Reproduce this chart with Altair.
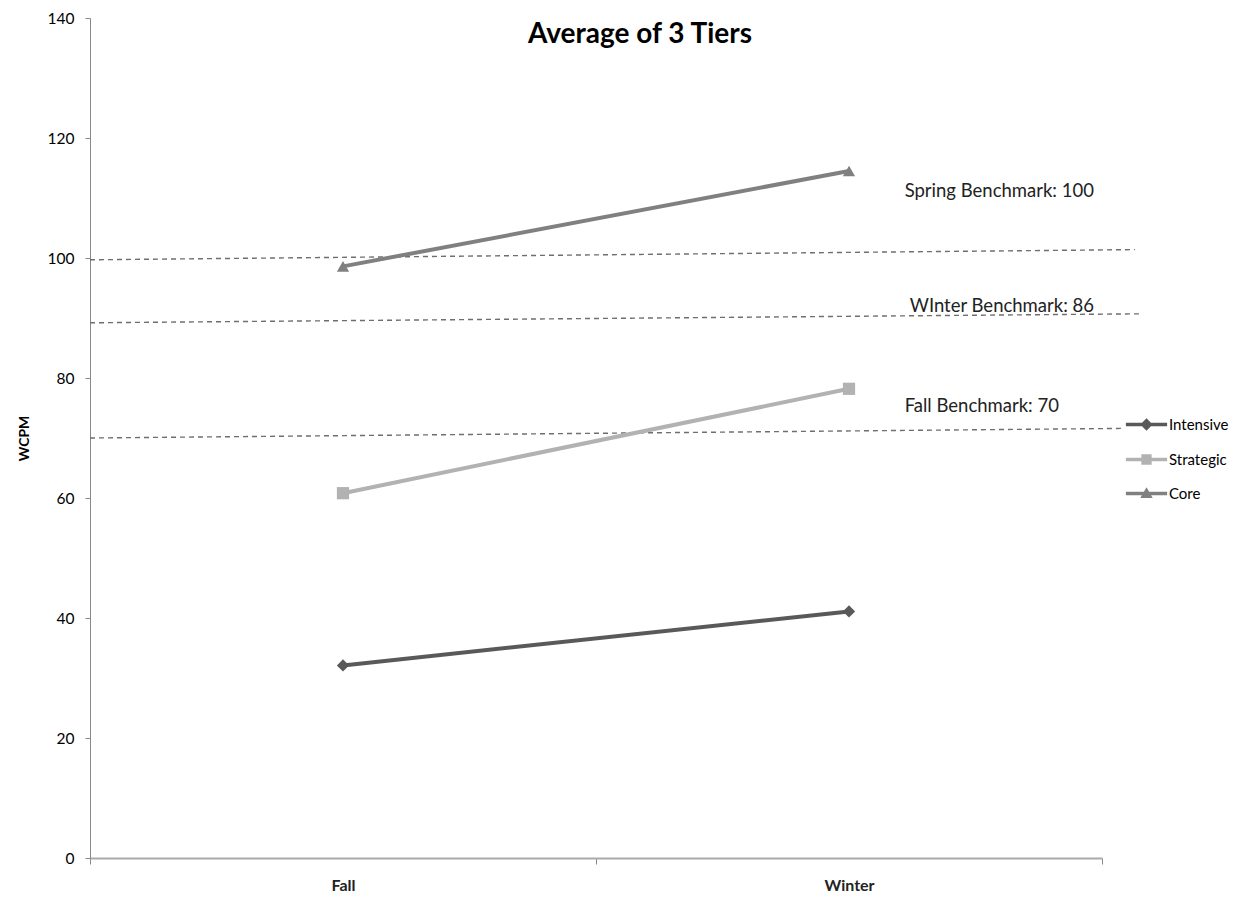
import altair as alt
import pandas as pd

seasons = ["Fall", "Winter"]
season_pos = [0.5, 1.5]
tiers = ["Intensive", "Strategic", "Core"]
intensive = [32.1, 41.1]
strategic = [60.8, 78.2]
core = [98.6, 114.5]
tier_colors = ["#595959", "#b2b2b2", "#808080"]
tier_shapes = ["diamond", "square", "triangle-up"]

# legend symbols: a thick line with the marker in its middle (unit coordinates)
legend_paths = [
    "M-1,-0.09 H1 V0.09 H-1 Z M0,-0.3 L0.3,0 L0,0.3 L-0.3,0 Z",
    "M-1,-0.09 H1 V0.09 H-1 Z M-0.25,-0.25 H0.25 V0.25 H-0.25 Z",
    "M-1,-0.09 H1 V0.09 H-1 Z M0,-0.3 L0.3,0.22 L-0.3,0.22 Z",
]

bench_names = ["Spring Benchmark: 100", "WInter Benchmark: 86", "Fall Benchmark: 70"]
bench_x_start = [0.0, 0.0, 0.0]
bench_x_end = [2.065, 2.08, 2.04]
bench_y_start = [99.7, 89.2, 70.0]
bench_y_end = [101.4, 90.7, 71.6]
label_x = [1.61, 1.62, 1.61]
label_y = [111.2, 92.0, 75.3]

rows = []
for name, vals in zip(tiers, [intensive, strategic, core]):
    for s, p, v in zip(seasons, season_pos, vals):
        rows.append({"tier": name, "season": s, "pos": p, "wcpm": v})
df = pd.DataFrame(rows)

bench = pd.DataFrame({
    "name": bench_names, "x1": bench_x_start, "x2": bench_x_end,
    "y1": bench_y_start, "y2": bench_y_end, "lx": label_x, "ly": label_y,
})

FONT = "Lato"

xscale = alt.Scale(domain=[0, 2], nice=False, zero=False)
yscale = alt.Scale(domain=[0, 140], nice=False)

yaxis = alt.Axis(values=[0, 20, 40, 60, 80, 100, 120, 140], grid=False, title="WCPM",
                 titleFont=FONT, titleFontSize=14, titleFontWeight="bold", titleColor="black",
                 labelFont=FONT, labelFontSize=15.5, labelColor="black", labelPadding=11,
                 tickSize=5, tickColor="#888", domainColor="#888", titlePadding=16)

xaxis = alt.Axis(values=[0, 0.5, 1, 1.5, 2],
                 labelExpr="datum.value == 0.5 ? 'Fall' : (datum.value == 1.5 ? 'Winter' : '')",
                 tickOpacity={"condition": {"test": "datum.value == 0.5 || datum.value == 1.5", "value": 0}, "value": 1},
                 tickSize=6, tickColor="#888", grid=False, title=None,
                 labelFont=FONT, labelFontSize=16, labelFontWeight="bold", labelColor="#222",
                 labelPadding=13, domainColor="#aaa", domainWidth=2)

bench_lines = alt.Chart(bench).mark_rule(strokeDash=[5, 4], strokeWidth=1.4, color="#6e6e6e", clip=False).encode(
    x=alt.X("x1:Q", scale=xscale, axis=xaxis),
    x2="x2:Q",
    y=alt.Y("y1:Q", scale=yscale, axis=yaxis),
    y2="y2:Q",
)

bench_text = alt.Chart(bench).mark_text(align="left", baseline="middle", font=FONT, fontSize=18.5,
                                        color="#222").encode(
    x=alt.X("lx:Q", scale=xscale),
    y=alt.Y("ly:Q", scale=yscale),
    text="name:N",
)

lines = alt.Chart(df).mark_line(strokeWidth=4).encode(
    x=alt.X("pos:Q", scale=xscale),
    y=alt.Y("wcpm:Q", scale=yscale),
    color=alt.Color("tier:N", scale=alt.Scale(domain=tiers, range=tier_colors), legend=None),
    detail="tier:N",
)
points = alt.Chart(df).mark_point(filled=True, size=150, opacity=1).encode(
    x=alt.X("pos:Q", scale=xscale),
    y=alt.Y("wcpm:Q", scale=yscale),
    color=alt.Color("tier:N", scale=alt.Scale(domain=tiers, range=tier_colors), legend=None),
    shape=alt.Shape("tier:N", scale=alt.Scale(domain=tiers, range=tier_shapes), legend=None),
)

leg = alt.Legend(title=None, orient="none", legendX=1035, legendY=385,
                 labelFont=FONT, labelFontSize=15, labelColor="black",
                 rowPadding=4, symbolSize=1700, symbolOpacity=1, labelOffset=1)
legend_layer = alt.Chart(df).mark_point(filled=True, opacity=0).encode(
    x=alt.X("pos:Q", scale=xscale),
    y=alt.Y("wcpm:Q", scale=yscale),
    color=alt.Color("tier:N", scale=alt.Scale(domain=tiers, range=tier_colors), legend=leg),
    shape=alt.Shape("tier:N", scale=alt.Scale(domain=tiers, range=legend_paths), legend=leg),
)

title = alt.Chart(pd.DataFrame({"t": ["Average of 3 Tiers"]})).mark_text(
    font=FONT, fontSize=28, fontWeight="bold", color="black", align="center", baseline="middle"
).encode(x=alt.value(550), y=alt.value(17), text="t:N")

chart = alt.layer(bench_lines, bench_text, lines, points, legend_layer, title).resolve_scale(
    color="independent", shape="independent"
).properties(
    width=1012, height=840,
    padding={"left": 90, "top": 18, "right": 147, "bottom": 41},
    autosize=alt.AutoSizeParams(type="none"),
    background="white",
).configure_view(stroke="transparent", strokeWidth=0)

chart.save("out.html", embed_options={"renderer": "svg", "actions": False})
